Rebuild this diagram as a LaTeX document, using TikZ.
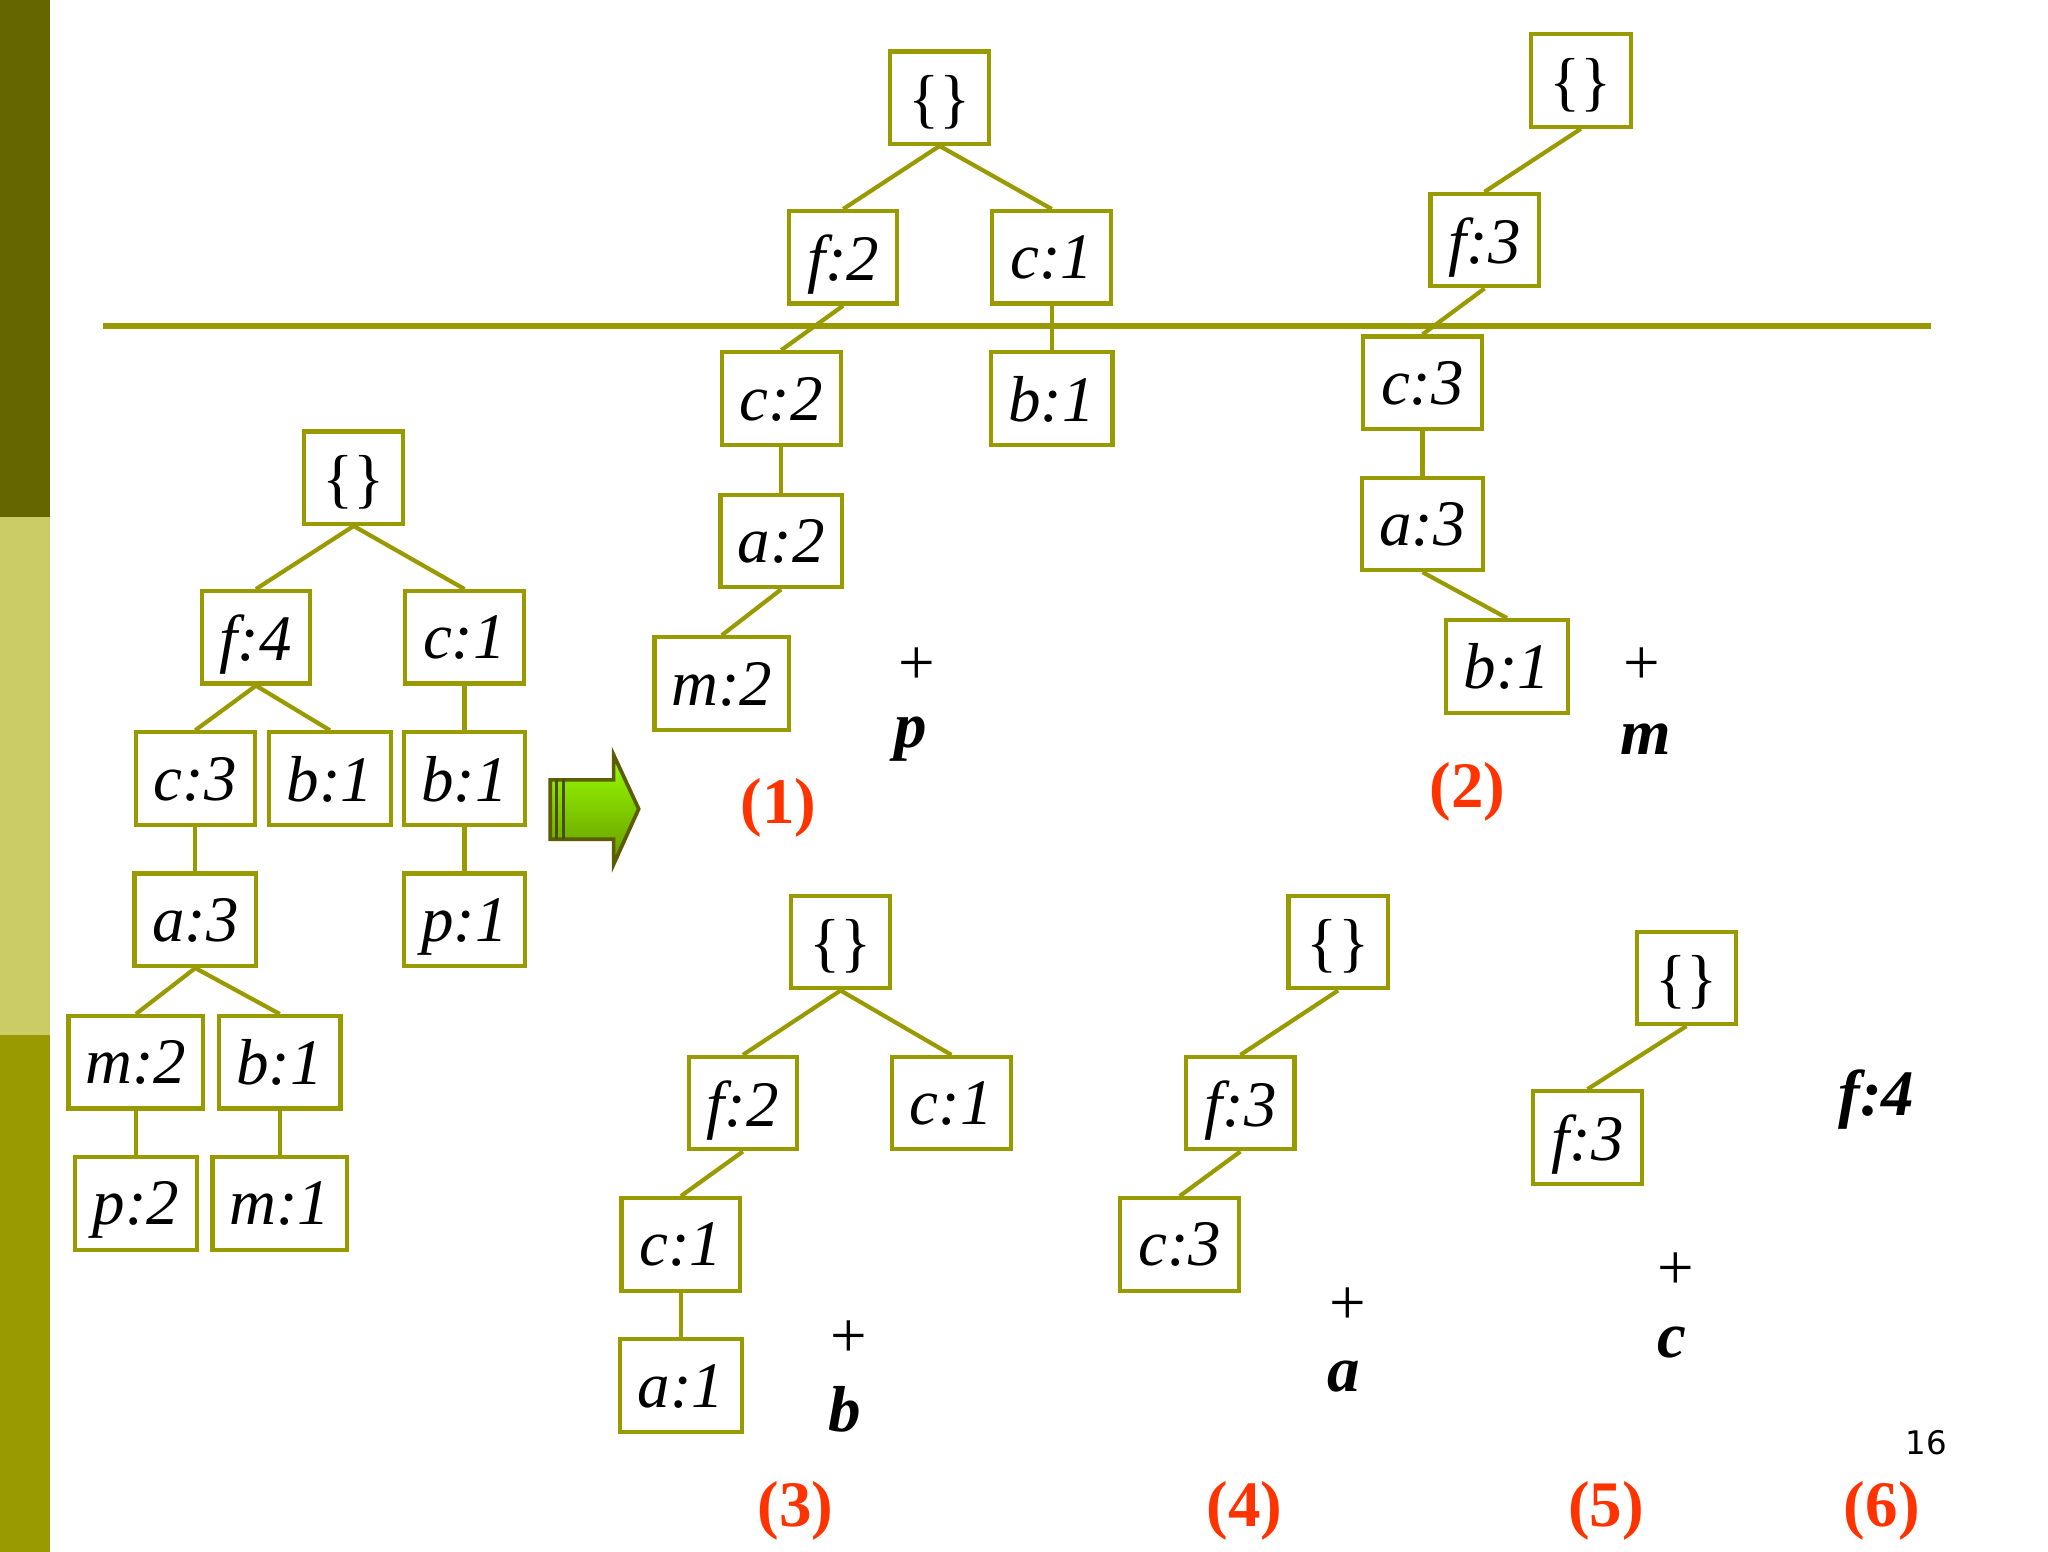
\documentclass[tikz,border=0pt]{standalone}
\usepackage{fontspec}
\setmainfont{Liberation Serif}
\setsansfont{DejaVu Sans}
\begin{document}
\begin{tikzpicture}[x=0.01cm,y=-0.01cm,
  bx/.style={draw=olv,line width=0.9pt,minimum height=0.7cm,inner sep=0pt,font=\fontsize{14}{17}\selectfont\itshape,text depth=0pt},
  ed/.style={draw=olv,line width=0.9pt},
  lab/.style={font=\fontsize{14}{17}\selectfont\bfseries,text=redl},
  itb/.style={font=\fontsize{14}{17}\selectfont\bfseries\itshape},
  pl/.style={font=\fontsize{14}{17}\selectfont}]
\definecolor{olv}{HTML}{999900}
\definecolor{redl}{HTML}{FF3300}
\newcommand{\eset}{\normalfont\{\}}
\useasboundingbox (0,0) rectangle (1552,1176);
\fill[white] (0,0) rectangle (1552,1176);
\fill[fill={rgb,255:red,102;green,102;blue,0}] (0,0) rectangle (38,392);
\fill[fill={rgb,255:red,204;green,204;blue,102}] (0,392) rectangle (38,784);
\fill[fill={rgb,255:red,153;green,153;blue,0}] (0,784) rectangle (38,1176);
\coordinate (hl1) at (78,247); \coordinate (hl2) at (1463,247);
\draw[olv,line width=1.3pt] (hl1) -- (hl2);
% main tree
\node[bx,minimum width=0.75cm] (r) at (268,362) {\eset};
\node[bx,minimum width=0.82cm] (f4) at (194,483) {f:4};
\node[bx,minimum width=0.9cm] (c1) at (352,483) {c:1};
\node[bx,minimum width=0.9cm] (c3) at (148,590) {c:3};
\node[bx,minimum width=0.92cm] (b1a) at (250,590) {b:1};
\node[bx,minimum width=0.92cm] (b1b) at (352,590) {b:1};
\node[bx,minimum width=0.92cm] (a3) at (148,697) {a:3};
\node[bx,minimum width=0.92cm] (p1) at (352,697) {p:1};
\node[bx,minimum width=1.02cm] (m2) at (103,805) {m:2};
\node[bx,minimum width=0.92cm] (b1c) at (212,805) {b:1};
\node[bx,minimum width=0.92cm] (p2) at (103,912) {p:2};
\node[bx,minimum width=1.02cm] (m1) at (212,912) {m:1};
\foreach \a/\b in {r/f4,r/c1,f4/c3,f4/b1a,c1/b1b,c3/a3,b1b/p1,a3/m2,a3/b1c,m2/p2,b1c/m1}
  \draw[ed] (\a.south) -- (\b.north);
% arrow
\path[draw=olv!60!black,line width=0.8pt,top color=yellow!60!green,bottom color=olive!80!green]
  (417,591) -- (465,591) -- (465,572) -- (484,613) -- (465,655) -- (465,636) -- (417,636) -- cycle;
\draw[olv!50!black,line width=0.6pt] (422,591) -- (422,636) (427,591) -- (427,636);
% tree 1
\node[bx,minimum width=0.75cm] (t1r) at (712,74) {\eset};
\node[bx,minimum width=0.82cm] (t1f) at (639,195) {f:2};
\node[bx,minimum width=0.9cm] (t1c) at (797,195) {c:1};
\node[bx,minimum width=0.9cm] (t1c2) at (592,302) {c:2};
\node[bx,minimum width=0.92cm] (t1b) at (797,302) {b:1};
\node[bx,minimum width=0.92cm] (t1a) at (592,410) {a:2};
\node[bx,minimum width=1.02cm] (t1m) at (547,518) {m:2};
\foreach \a/\b in {t1r/t1f,t1r/t1c,t1f/t1c2,t1c/t1b,t1c2/t1a,t1a/t1m}
  \draw[ed] (\a.south) -- (\b.north);
\node[pl] (pl1) at (695,505) {+};
\node[itb] (x1) at (690,560) {p};
\node[lab] (l1) at (590,612) {(1)};
% tree 2
\node[bx,minimum width=0.76cm] (t2r) at (1198,61) {\eset};
\node[bx,minimum width=0.82cm] (t2f) at (1125,182) {f:3};
\node[bx,minimum width=0.9cm] (t2c) at (1078,290) {c:3};
\node[bx,minimum width=0.92cm] (t2a) at (1078,397) {a:3};
\node[bx,minimum width=0.92cm] (t2b) at (1142,505) {b:1};
\foreach \a/\b in {t2r/t2f,t2f/t2c,t2c/t2a,t2a/t2b}
  \draw[ed] (\a.south) -- (\b.north);
\node[pl] (pl2) at (1244,505) {+};
\node[itb] (x2) at (1247,560) {m};
\node[lab] (l2) at (1112,600) {(2)};
% tree 3
\node[bx,minimum width=0.75cm] (t3r) at (637,714) {\eset};
\node[bx,minimum width=0.82cm] (t3f) at (563,836) {f:2};
\node[bx,minimum width=0.9cm] (t3c) at (721,836) {c:1};
\node[bx,minimum width=0.9cm] (t3c2) at (516,943) {c:1};
\node[bx,minimum width=0.92cm] (t3a) at (516,1050) {a:1};
\foreach \a/\b in {t3r/t3f,t3r/t3c,t3f/t3c2,t3c2/t3a}
  \draw[ed] (\a.south) -- (\b.north);
\node[pl] (pl3) at (643,1015) {+};
\node[itb] (x3) at (640,1068) {b};
\node[lab] (l3) at (603,1145) {(3)};
% tree 4
\node[bx,minimum width=0.75cm] (t4r) at (1014,714) {\eset};
\node[bx,minimum width=0.82cm] (t4f) at (940,836) {f:3};
\node[bx,minimum width=0.9cm] (t4c) at (894,943) {c:3};
\foreach \a/\b in {t4r/t4f,t4f/t4c}
  \draw[ed] (\a.south) -- (\b.north);
\node[pl] (pl4) at (1021,990) {+};
\node[itb] (x4) at (1018,1043) {a};
\node[lab] (l4) at (943,1145) {(4)};
% tree 5
\node[bx,minimum width=0.75cm] (t5r) at (1278,741) {\eset};
\node[bx,minimum width=0.82cm] (t5f) at (1203,862) {f:3};
\draw[ed] (t5r.south) -- (t5f.north);
\node[pl] (pl5) at (1270,963) {+};
\node[itb] (x5) at (1267,1017) {c};
\node[lab] (l5) at (1217,1145) {(5)};
% 6
\node[itb] (x6) at (1422,833) {f:4};
\node[lab] (l6) at (1426,1145) {(6)};
\node[font=\sffamily\fontsize{7}{9}\selectfont] (pg) at (1460,1093) {16};
\end{tikzpicture}
\end{document}
